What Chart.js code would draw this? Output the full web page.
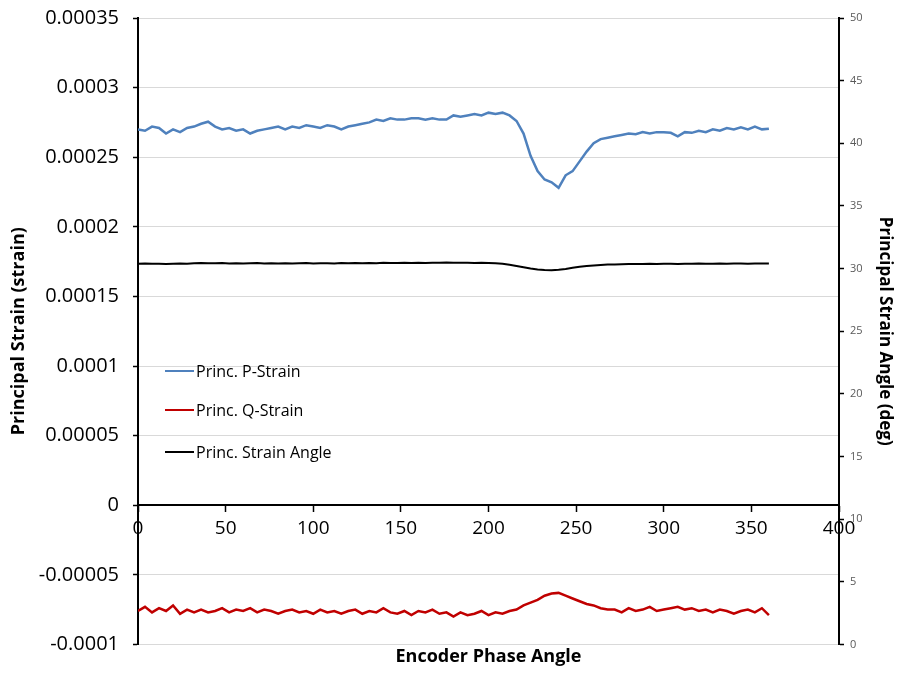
<!DOCTYPE html>
<html>
<head>
<meta charset="utf-8">
<script src="https://cdn.jsdelivr.net/npm/chart.js@4.4.1/dist/chart.umd.min.js"></script>
<style>
    body { margin: 0; background: #fff; }
    #wrap { position: relative; width: 899px; height: 673px; }
    #legend { position: absolute; font-family: "Open Sans", sans-serif; font-size: 16px; color: #000; }
    .legend-row { position: absolute; white-space: nowrap; display: flex; align-items: center; }
    .legend-line { width: 29px; height: 2.5px; margin-right: 2px; }
</style>
</head>
<body>
<div id="wrap">
    <canvas id="strainChart" width="899" height="673"></canvas>
    <div id="legend"></div>
</div>
<script>
// Principal strain vs encoder phase angle

const angles = [
    0, 4, 8, 12, 16, 20, 24, 28, 32, 36,
    40, 44, 48, 52, 56, 60, 64, 68, 72, 76,
    80, 84, 88, 92, 96, 100, 104, 108, 112, 116,
    120, 124, 128, 132, 136, 140, 144, 148, 152, 156,
    160, 164, 168, 172, 176, 180, 184, 188, 192, 196,
    200, 204, 208, 212, 216, 220, 224, 228, 232, 236,
    240, 244, 248, 252, 256, 260, 264, 268, 272, 276,
    280, 284, 288, 292, 296, 300, 304, 308, 312, 316,
    320, 324, 328, 332, 336, 340, 344, 348, 352, 356,
    360
];

// P-strain, in units of 1e-4
const pStrain = [
    2.70, 2.69, 2.72, 2.71, 2.67, 2.70, 2.68, 2.71, 2.72, 2.74,
    2.755, 2.72, 2.70, 2.71, 2.69, 2.70, 2.67, 2.69, 2.70, 2.71,
    2.72, 2.70, 2.72, 2.71, 2.73, 2.72, 2.71, 2.73, 2.72, 2.70,
    2.72, 2.73, 2.74, 2.75, 2.77, 2.76, 2.78, 2.77, 2.77, 2.78,
    2.78, 2.77, 2.78, 2.77, 2.77, 2.80, 2.79, 2.80, 2.81, 2.80,
    2.82, 2.81, 2.82, 2.80, 2.76, 2.67, 2.51, 2.40, 2.34, 2.32,
    2.28, 2.37, 2.40, 2.47, 2.54, 2.60, 2.63, 2.64, 2.65, 2.66,
    2.67, 2.665, 2.68, 2.67, 2.68, 2.68, 2.675, 2.65, 2.68, 2.675,
    2.69, 2.68, 2.70, 2.69, 2.71, 2.70, 2.715, 2.70, 2.72, 2.70,
    2.705
];

// Q-strain, in units of 1e-5
const qStrain = [
    -7.6, -7.3, -7.7, -7.4, -7.6, -7.2, -7.8, -7.5, -7.7, -7.5,
    -7.7, -7.6, -7.4, -7.7, -7.5, -7.6, -7.4, -7.7, -7.5, -7.6,
    -7.8, -7.6, -7.5, -7.7, -7.6, -7.8, -7.5, -7.7, -7.6, -7.8,
    -7.6, -7.5, -7.8, -7.6, -7.7, -7.4, -7.7, -7.8, -7.6, -7.9,
    -7.6, -7.7, -7.5, -7.8, -7.7, -8.0, -7.7, -7.9, -7.8, -7.6,
    -7.9, -7.7, -7.8, -7.6, -7.5, -7.2, -7.0, -6.8, -6.5, -6.35,
    -6.3, -6.5, -6.7, -6.9, -7.1, -7.2, -7.4, -7.5, -7.5, -7.7,
    -7.4, -7.6, -7.5, -7.3, -7.6, -7.5, -7.4, -7.3, -7.5, -7.4,
    -7.6, -7.5, -7.7, -7.5, -7.6, -7.8, -7.6, -7.5, -7.7, -7.4,
    -7.9
];

// principal strain angle, degrees
const strainAngle = [
    30.38, 30.40, 30.38, 30.39, 30.37, 30.38, 30.40, 30.38, 30.42, 30.44,
    30.43, 30.42, 30.44, 30.41, 30.43, 30.40, 30.42, 30.44, 30.41, 30.42,
    30.40, 30.43, 30.41, 30.42, 30.44, 30.40, 30.42, 30.43, 30.41, 30.44,
    30.42, 30.44, 30.43, 30.45, 30.43, 30.46, 30.44, 30.45, 30.47, 30.44,
    30.46, 30.45, 30.47, 30.46, 30.48, 30.46, 30.47, 30.46, 30.45, 30.47,
    30.45, 30.42, 30.38, 30.30, 30.20, 30.10, 30.00, 29.92, 29.88, 29.86,
    29.90, 29.96, 30.06, 30.14, 30.20, 30.25, 30.28, 30.32, 30.33, 30.35,
    30.36, 30.37, 30.36, 30.38, 30.37, 30.39, 30.38, 30.37, 30.39, 30.38,
    30.40, 30.39, 30.38, 30.40, 30.39, 30.41, 30.40, 30.39, 30.41, 30.40,
    30.40
];

const seriesLabels = ['Princ. P-Strain', 'Princ. Q-Strain', 'Princ. Strain Angle'];
const seriesColors = ['#4F81BD', '#C00000', '#000000'];

const FONT = '"Open Sans", sans-serif';

function toPoints(values, scale) {
    return angles.map((a, i) => ({x: a, y: values[i] * scale}));
}

function formatStrain(value) {
    return String(Number(value.toFixed(6)));
}

// legend sits inside the plot area, so it is built as html over the canvas
const insideLegend = {
    id: 'insideLegend',
    afterRender(chart) {
        const box = document.getElementById('legend');
        const area = chart.chartArea;
        box.style.left = (area.left + 27) + 'px';
        box.style.top = (area.top + 354) + 'px';
        const offsets = [0, 39, 81];
        box.innerHTML = chart.data.datasets.map((ds, i) => `
            <div class="legend-row" style="top:${offsets[i] - 12}px">
                <span class="legend-line" style="background:${ds.borderColor}"></span>
                <span>${ds.label}</span>
            </div>
        `).join('');
    }
};

function renderStrainChart() {
    const ctx = document.getElementById('strainChart');

    new Chart(ctx, {
        type: 'line',
        data: {
            datasets: [
                {
                    label: seriesLabels[0],
                    data: toPoints(pStrain, 1e-4),
                    borderColor: seriesColors[0],
                    borderWidth: 2.5,
                    yAxisID: 'y'
                },
                {
                    label: seriesLabels[1],
                    data: toPoints(qStrain, 1e-5),
                    borderColor: seriesColors[1],
                    borderWidth: 2.5,
                    yAxisID: 'y'
                },
                {
                    label: seriesLabels[2],
                    data: toPoints(strainAngle, 1),
                    borderColor: seriesColors[2],
                    borderWidth: 2,
                    yAxisID: 'y2'
                }
            ]
        },
        options: {
            responsive: false,
            animation: false,
            devicePixelRatio: 1,
            elements: {
                point: {radius: 0},
                line: {tension: 0}
            },
            layout: {padding: {top: 18, left: 0, right: 0, bottom: 0}},
            plugins: {
                legend: {display: false},
                tooltip: {enabled: false},
                title: {
                    display: true,
                    position: 'bottom',
                    fullSize: false,
                    text: 'Encoder Phase Angle',
                    color: '#000',
                    font: {family: FONT, size: 18, weight: 'bold'},
                    padding: {top: 2, bottom: 5}
                }
            },
            scales: {
                x: {
                    type: 'linear',
                    axis: 'x',
                    position: {y: 0},
                    min: 0,
                    max: 400,
                    ticks: {
                        stepSize: 50,
                        autoSkip: false,
                        maxRotation: 0,
                        color: '#000',
                        padding: 6,
                        font: {family: FONT, size: 19}
                    },
                    grid: {
                        drawOnChartArea: false,
                        tickLength: 6,
                        tickColor: '#000',
                        tickWidth: 1.5
                    },
                    border: {color: '#000', width: 2}
                },
                y: {
                    type: 'linear',
                    position: 'left',
                    min: -0.0001,
                    max: 0.00035,
                    afterFit: (scale) => {
                        scale.width = 138;
                        // keep the top/bottom labels from pushing the plot area in
                        scale.paddingTop = 0;
                        scale.paddingBottom = 0;
                    },
                    ticks: {
                        stepSize: 0.00005,
                        color: '#000',
                        padding: 14,
                        font: {family: FONT, size: 20},
                        callback: (value) => formatStrain(value)
                    },
                    grid: {
                        color: '#D9D9D9',
                        lineWidth: 1,
                        tickLength: 5,
                        tickColor: '#000',
                        tickWidth: 1.5
                    },
                    border: {color: '#000', width: 2},
                    title: {
                        display: true,
                        text: 'Principal Strain (strain)',
                        color: '#000',
                        font: {family: FONT, size: 18, weight: 'bold'},
                        padding: {top: 8, bottom: 0}
                    }
                },
                y2: {
                    type: 'linear',
                    position: 'right',
                    min: 0,
                    max: 50,
                    afterFit: (scale) => {
                        scale.width = 60;
                        scale.paddingTop = 0;
                        scale.paddingBottom = 0;
                    },
                    ticks: {
                        stepSize: 5,
                        color: '#595959',
                        padding: 6,
                        font: {family: FONT, size: 11}
                    },
                    grid: {
                        drawOnChartArea: false,
                        tickLength: 5,
                        tickColor: '#000',
                        tickWidth: 1.5
                    },
                    border: {color: '#000', width: 2},
                    title: {
                        display: true,
                        text: 'Principal Strain Angle (deg)',
                        color: '#000',
                        font: {family: FONT, size: 17, weight: 'bold'},
                        padding: {top: 4, bottom: 0}
                    }
                }
            }
        },
        plugins: [insideLegend]
    });
}

renderStrainChart();
</script>
</body>
</html>
